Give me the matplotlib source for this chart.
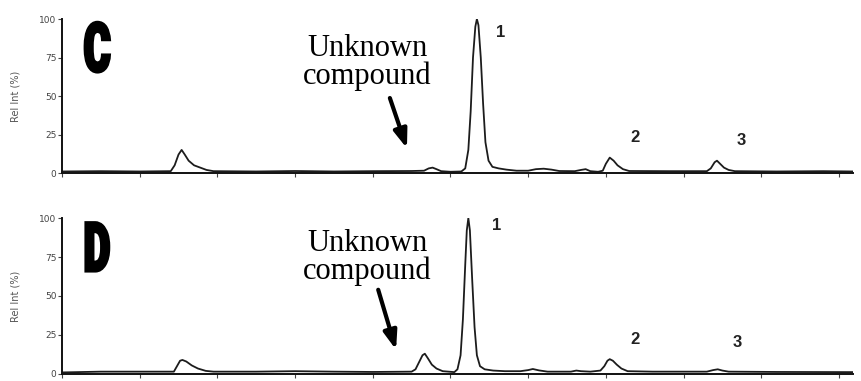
import matplotlib
matplotlib.use("Agg")
import matplotlib.pyplot as plt
from matplotlib import patheffects
from matplotlib.transforms import Affine2D

# chromatogram traces, retention axis in tick units
c_time = [0.00, 0.50, 1.00, 1.40, 1.45, 1.50, 1.54, 1.58, 1.63, 1.70, 1.78, 1.86, 1.95,
          2.50, 3.00, 3.50, 4.00, 4.50, 4.66, 4.72, 4.77, 4.82, 4.88, 5.00, 5.14, 5.19,
          5.23, 5.26, 5.29, 5.32, 5.34, 5.36, 5.39, 5.42, 5.45, 5.49, 5.54, 5.62, 5.72,
          5.85, 6.00, 6.10, 6.20, 6.30, 6.40, 6.60, 6.68, 6.74, 6.80, 6.90, 6.96, 7.00,
          7.05, 7.10, 7.15, 7.22, 7.30, 7.80, 8.30, 8.35, 8.40, 8.43, 8.47, 8.52, 8.58,
          8.66, 9.20, 9.80, 10.18]
c_signal = [1.0, 1.2, 1.0, 1.2, 5, 12, 15, 12, 8, 5, 3.5, 2, 1.2,
            1.0, 1.3, 1.0, 1.2, 1.3, 1.5, 3, 3.5, 2.5, 1.2, 0.8, 1.0, 3,
            15, 40, 75, 95, 100, 96, 75, 45, 20, 8, 4, 3, 2.2,
            1.5, 1.5, 2.5, 2.8, 2.2, 1.3, 1.2, 2.0, 2.5, 1.2, 0.8, 1.5, 6,
            10, 8, 5, 2.5, 1.3, 1.2, 1.2, 3, 7, 8, 6, 3.5, 2,
            1.2, 1.0, 1.2, 1.0]

d_time = [0.00, 0.50, 1.00, 1.44, 1.48, 1.52, 1.55, 1.60, 1.67, 1.75, 1.85, 1.95,
          2.50, 3.00, 3.50, 4.00, 4.50, 4.55, 4.60, 4.64, 4.67, 4.71, 4.76, 4.82, 4.90,
          5.05, 5.09, 5.13, 5.16, 5.19, 5.21, 5.23, 5.25, 5.28, 5.31, 5.34, 5.38, 5.44,
          5.55, 5.70, 5.90, 6.00, 6.06, 6.14, 6.25, 6.55, 6.62, 6.68, 6.80, 6.93, 6.98,
          7.02, 7.05, 7.09, 7.14, 7.20, 7.28, 7.60, 8.30, 8.38, 8.44, 8.50, 8.58, 9.20,
          10.18]
d_signal = [1.0, 1.5, 1.5, 1.5, 5, 8.5, 9, 8, 5.5, 3.5, 2, 1.5,
            1.5, 1.8, 1.5, 1.3, 1.5, 3, 8, 12, 13, 10, 6, 3.5, 1.8,
            1.2, 3, 12, 35, 70, 92, 100, 92, 60, 30, 12, 5, 3,
            2.2, 1.8, 1.8, 2.5, 3.2, 2.3, 1.5, 1.5, 2.2, 1.8, 1.5, 2.2, 5,
            8.5, 9.5, 8.5, 6, 3.5, 1.8, 1.5, 1.5, 2.5, 3, 2.2, 1.5, 1.3,
            1.2]

peak_names = ["1", "2", "3"]
c_peak_pos = [(5.65, 91), (7.37, 23), (8.74, 21)]
d_peak_pos = [(5.60, 95), (7.37, 22), (8.69, 20)]

y_ticks = [0, 25, 50, 75, 100]
x_ticks = list(range(11))


class Squeeze(patheffects.AbstractPathEffect):
    """Narrow a glyph horizontally about its left edge and thicken it."""

    def __init__(self, sx, lw=0.0):
        super().__init__()
        self.sx = sx
        self.lw = lw

    def draw_path(self, renderer, gc, tpath, affine, rgbFace=None):
        x0 = affine.get_matrix()[0, 2]
        squeezed = affine + Affine2D().translate(-x0, 0).scale(self.sx, 1).translate(x0, 0)
        gc0 = renderer.new_gc()
        gc0.copy_properties(gc)
        gc0.set_linewidth(self.lw)
        gc0.set_foreground(rgbFace)
        gc0.set_joinstyle("miter")
        renderer.draw_path(gc0, tpath, squeezed, rgbFace)
        gc0.restore()


fig = plt.figure(figsize=(8.62, 3.81), dpi=100)
ax_c = fig.add_axes([0.0719, 0.5459, 0.9176, 0.4042])
ax_d = fig.add_axes([0.0719, 0.0184, 0.9176, 0.4094])

panels = [
    (ax_c, c_time, c_signal, "C", c_peak_pos, (3.93, 90.5), (4.22, 48.7), (4.44, 16.0)),
    (ax_d, d_time, d_signal, "D", d_peak_pos, (3.93, 93.0), (4.07, 54.0), (4.30, 15.5)),
]

for ax, t, s, letter, peak_pos, txt_xy, arr_from, arr_to in panels:
    ax.plot(t, s, color="#1c1c1c", lw=1.3, solid_joinstyle="round")
    ax.set_xlim(0, 10.18)
    ax.set_ylim(0, 100)
    for side in ("top", "right"):
        ax.spines[side].set_visible(False)
    for side in ("left", "bottom"):
        ax.spines[side].set_linewidth(1.4)
        ax.spines[side].set_color("#111111")
    ax.set_xticks(x_ticks)
    ax.set_xticklabels([])
    ax.set_yticks(y_ticks)
    ax.set_yticklabels([str(v) for v in y_ticks])
    ax.tick_params(axis="x", direction="out", length=3, width=0.8, colors="#444444")
    ax.tick_params(axis="y", direction="out", length=3, width=0.8, pad=1,
                   labelsize=6.5, colors="#444444")
    ax.set_ylabel("Rel Int (%)", fontsize=7, color="#555555")
    ax.yaxis.set_label_coords(-0.053, 0.5)

    ax.text(0.28, 66, letter, fontsize=49, fontweight="black",
            family=["Roboto", "DejaVu Sans"], ha="left", va="baseline",
            path_effects=[Squeeze(0.6, 2.2)])

    for name, (px, py) in zip(peak_names, peak_pos):
        ax.text(px, py, name, fontsize=12, fontweight="bold",
                family=["Liberation Sans", "DejaVu Sans"], ha="center", va="center",
                color="#222222")

    ax.text(txt_xy[0], txt_xy[1], "Unknown\ncompound", fontsize=22,
            family=["Liberation Serif", "DejaVu Serif"], ha="center", va="top",
            linespacing=0.95)
    ax.annotate("", xy=arr_to, xytext=arr_from,
                arrowprops=dict(arrowstyle="-|>,head_length=0.55,head_width=0.2",
                                lw=3, color="black", mutation_scale=20,
                                shrinkA=0, shrinkB=0))

fig.savefig("out.png", dpi=100)
